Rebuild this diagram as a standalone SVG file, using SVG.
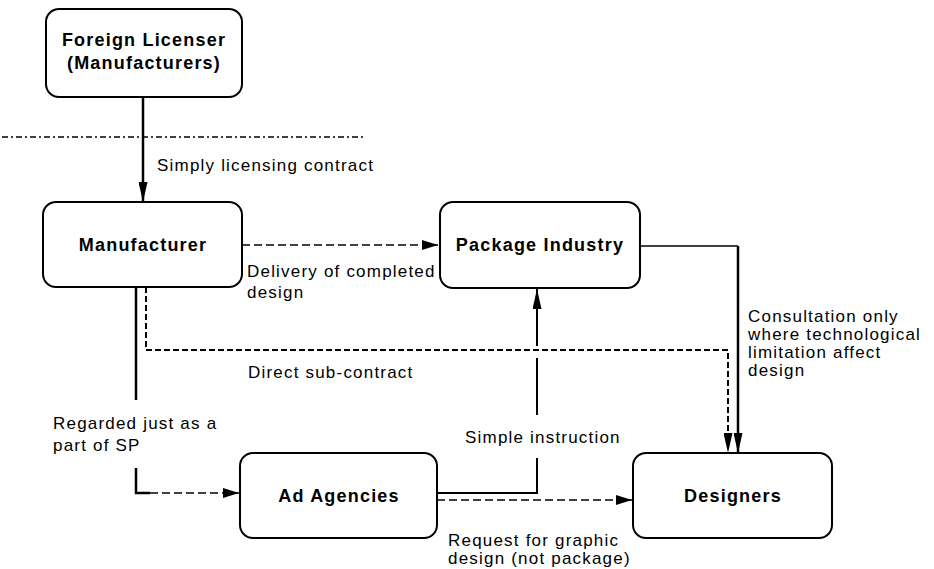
<svg xmlns="http://www.w3.org/2000/svg" width="934" height="569" viewBox="0 0 934 569">
<style>
.box{fill:#fff;stroke:#000;stroke-width:2}
.nm{font-family:"Liberation Sans",Arial,sans-serif;font-weight:bold;font-size:18px;letter-spacing:1.2px;text-anchor:middle;fill:#000}
.lbl{font-family:"Liberation Sans",Arial,sans-serif;font-size:17px;letter-spacing:1.2px;fill:#000}
.solid{fill:none;stroke:#000;stroke-width:2.5}
.mid{fill:none;stroke:#000;stroke-width:2}
.thin{fill:none;stroke:#000;stroke-width:1.3}
.dash{fill:none;stroke:#000;stroke-width:1.3;stroke-dasharray:8 4}
.dash2{fill:none;stroke:#000;stroke-width:2;stroke-dasharray:6 3}
.dashdot{fill:none;stroke:#000;stroke-width:1.5;stroke-dasharray:6 3 2 3}
</style>
<defs>
<marker id="ah" viewBox="0 0 16 10" refX="16" refY="5" markerWidth="16" markerHeight="10" markerUnits="userSpaceOnUse" orient="auto">
<path d="M0,0 L16,5 L0,10 z" fill="#000"/>
</marker>
<marker id="ahl" viewBox="0 0 20 9" refX="20" refY="4.5" markerWidth="20" markerHeight="9" markerUnits="userSpaceOnUse" orient="auto">
<path d="M0,0 L20,4.5 L0,9 z" fill="#000"/>
</marker>
</defs>

<line class="dashdot" x1="2" y1="137" x2="363" y2="137"/>

<g id="connectors">
<line class="solid" x1="143" y1="97" x2="143" y2="202" marker-end="url(#ahl)"/>
<line class="dash" x1="242" y1="245" x2="438" y2="245" marker-end="url(#ah)"/>
<polyline class="thin" points="640,246 738,246"/>
<line class="solid" x1="738" y1="246" x2="738" y2="453" marker-end="url(#ahl)"/>
<polyline class="dash2" points="146,287 146,350 728,350 728,453" marker-end="url(#ahl)"/>
<line class="solid" x1="136" y1="287" x2="136" y2="400"/>
<polyline class="solid" points="136,468 136,493 150,493" />
<line class="dash" x1="150" y1="493" x2="239" y2="493" marker-end="url(#ah)"/>
<polyline class="mid" points="437,493 537,493 537,458"/>
<line class="mid" x1="537" y1="415" x2="537" y2="358"/>
<line class="mid" x1="537" y1="346" x2="537" y2="289" marker-end="url(#ahl)"/>
<line class="dash" x1="437" y1="500" x2="632" y2="500" marker-end="url(#ah)"/>
</g>

<g id="foreign-licenser">
<rect class="box" x="46" y="9" width="196" height="88" rx="13"/>
<text class="nm" x="144" y="46">Foreign Licenser</text>
<text class="nm" x="144" y="69">(Manufacturers)</text>
</g>
<g id="manufacturer">
<rect class="box" x="43" y="202" width="199" height="85" rx="13"/>
<text class="nm" x="143" y="251">Manufacturer</text>
</g>
<g id="package-industry">
<rect class="box" x="440" y="202" width="200" height="86" rx="13"/>
<text class="nm" x="540" y="251">Package Industry</text>
</g>
<g id="ad-agencies">
<rect class="box" x="240" y="453" width="197" height="85" rx="13"/>
<text class="nm" x="339" y="502">Ad Agencies</text>
</g>
<g id="designers">
<rect class="box" x="633" y="453" width="199" height="85" rx="13"/>
<text class="nm" x="733" y="502">Designers</text>
</g>

<g id="labels">
<text class="lbl" x="157" y="171">Simply licensing contract</text>
<text class="lbl" x="247" y="277">Delivery of completed</text>
<text class="lbl" x="247" y="298">design</text>
<text class="lbl" x="248" y="378">Direct sub-contract</text>
<text class="lbl" x="53" y="429">Regarded just as a</text>
<text class="lbl" x="53" y="451">part of SP</text>
<text class="lbl" x="465" y="443">Simple instruction</text>
<text class="lbl" x="448" y="546">Request for graphic</text>
<text class="lbl" x="448" y="564">design (not package)</text>
<text class="lbl" x="748" y="322">Consultation only</text>
<text class="lbl" x="748" y="340">where technological</text>
<text class="lbl" x="748" y="358">limitation affect</text>
<text class="lbl" x="748" y="376">design</text>
</g>
</svg>
